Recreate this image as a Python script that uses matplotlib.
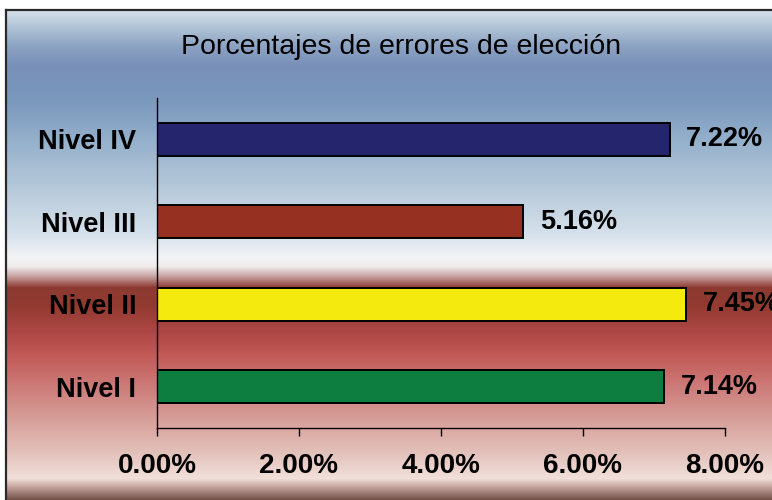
import numpy as np
import matplotlib.pyplot as plt
from matplotlib.colors import to_rgb


niveles = ["Nivel I", "Nivel II", "Nivel III", "Nivel IV"]
porcentajes = [7.14, 7.45, 5.16, 7.22]
colores = ["#0e7e40", "#f4ea0e", "#963122", "#25256e"]
ticks_x = [0, 2, 4, 6, 8]
titulo = "Porcentajes de errores de elección"

W, H = 772, 500

# background gradient stops (pixel row from top, colour)
grad_stops = [
    (10, "#d4e0ea"), (25, "#b4c6d8"), (45, "#8ea4c4"), (65, "#7890b9"),
    (100, "#7b98bd"), (140, "#94b0cb"), (190, "#b8cadb"), (235, "#d6e2ec"),
    (256, "#f2f4f6"), (266, "#f0ecec"), (276, "#c8a0a0"), (287, "#8c3a32"),
    (305, "#923a30"), (330, "#ac4644"), (355, "#c25a56"), (385, "#cc7a78"),
    (420, "#d8a09a"), (455, "#e4c4be"), (478, "#f2e0da"), (487, "#c0a098"),
    (500, "#6e4c44"),
]

fig = plt.figure(figsize=(W / 100, H / 100), dpi=100)

# ---- background panel ----
bg = fig.add_axes([6 / W, 0, 1 - 6 / W, 490 / H])
rows = np.arange(10, 500)
sy = [s[0] for s in grad_stops]
rgb = np.array([to_rgb(s[1]) for s in grad_stops])
img = np.stack([np.interp(rows, sy, rgb[:, k]) for k in range(3)], axis=-1)
img = img[:, None, :]
bg.imshow(img, aspect="auto", extent=[0, 1, 0, 1], interpolation="bilinear")
bg.set_xticks([])
bg.set_yticks([])
for side in ["right", "bottom"]:
    bg.spines[side].set_visible(False)
for side in ["left", "top"]:
    bg.spines[side].set_linewidth(1.6)
    bg.spines[side].set_color("#2a2a2a")

fig.text(401 / W, 1 - 47 / H, titulo, ha="center", va="center",
         fontsize=20.5, family="Liberation Sans", color="black")

# ---- bar chart ----
ax = fig.add_axes([157 / W, (H - 428) / H, (725 - 157) / W, (428 - 98) / H])
ax.patch.set_alpha(0)
y = np.arange(len(niveles))
ax.barh(y, porcentajes, height=0.4, color=colores, edgecolor="black", linewidth=1.4)

for yi, v in zip(y, porcentajes):
    ax.annotate(f"{v:.2f}%", xy=(v, yi), xytext=(12, 0), textcoords="offset points",
                ha="left", va="center", fontsize=19.5, fontweight="bold",
                family="Liberation Sans", annotation_clip=False, clip_on=False)

ax.set_xlim(0, 8)
ax.set_ylim(-0.5, len(niveles) - 0.5)
ax.set_xticks(ticks_x)
ax.set_xticklabels([f"{t:.2f}%" for t in ticks_x], fontsize=20, fontweight="bold",
                   family="Liberation Sans")
ax.set_yticks(y)
ax.set_yticklabels(niveles, fontsize=19.5, fontweight="bold", family="Liberation Sans")
ax.tick_params(axis="x", direction="out", length=6, width=1, pad=12)
ax.tick_params(axis="y", length=0, pad=15)
ax.spines["top"].set_visible(False)
ax.spines["right"].set_visible(False)
ax.spines["left"].set_linewidth(1)
ax.spines["bottom"].set_linewidth(1)

fig.savefig("out.png", dpi=100)
